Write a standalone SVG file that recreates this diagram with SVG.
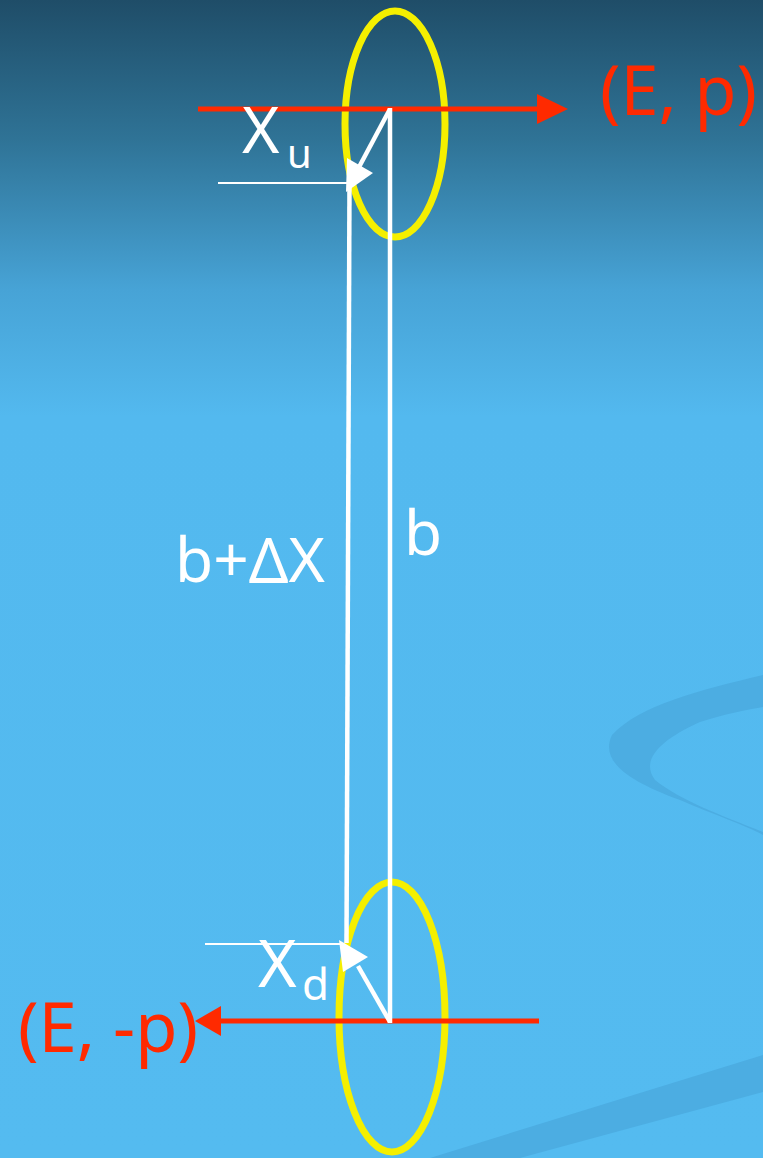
<svg xmlns="http://www.w3.org/2000/svg" width="763" height="1158" viewBox="0 0 763 1158">
<defs>
<linearGradient id="bg" x1="0" y1="0" x2="0" y2="1158" gradientUnits="userSpaceOnUse">
<stop offset="0" stop-color="#1f4d68"/>
<stop offset="0.12" stop-color="#2f7396"/>
<stop offset="0.25" stop-color="#47a3d6"/>
<stop offset="0.36" stop-color="#53b9ef"/>
<stop offset="1" stop-color="#54bbf0"/>
</linearGradient>
<style>
.lbl{font-family:"Noto Sans","DejaVu Sans",sans-serif;fill:#ffffff}
.red{font-family:"Noto Sans","DejaVu Sans",sans-serif;fill:#ff2a00}
.ring{fill:none;stroke:#f5ef00;stroke-width:7}
.beam{stroke:#ff2a00;stroke-width:5;fill:none}
.wl{stroke:#ffffff;stroke-width:4.5;fill:none}
.thin{stroke:#ffffff;stroke-width:1.8;fill:none}
</style>
</defs>
<rect x="0" y="0" width="763" height="1158" fill="url(#bg)"/>
<g id="decor" fill="#4cade2">
<path d="M763,675 C700,690 640,705 612,735 C600,760 625,780 680,800 C715,815 745,825 763,835 L763,832 C720,815 680,800 655,780 C640,760 660,740 700,722 C725,714 745,710 763,707 Z"/>
<path d="M430,1158 L763,1055 L763,1092 L520,1158 Z"/>
</g>
<g id="ring-top"><ellipse class="ring" cx="395" cy="124" rx="50" ry="113"/></g>
<g id="ring-bottom"><ellipse class="ring" cx="392" cy="1017" rx="53" ry="135"/></g>
<g id="connectors">
<line class="beam" x1="198" y1="109" x2="540" y2="109"/>
<polygon points="537,94 568,109 537,124" fill="#ff2a00"/>
<line class="beam" x1="539" y1="1021" x2="218" y2="1021"/>
<polygon points="221,1006 195,1021 221,1036" fill="#ff2a00"/>
<line class="wl" x1="390" y1="108" x2="390" y2="1023"/>
<line class="wl" x1="349.5" y1="183" x2="346.5" y2="943"/>
<line class="thin" x1="218" y1="183" x2="350" y2="183"/>
<line class="thin" x1="205" y1="944" x2="342" y2="944"/>
<line class="wl" x1="390" y1="109" x2="358" y2="169"/>
<polygon points="347,158 373,173 346,192" fill="#ffffff"/>
<line class="wl" x1="390" y1="1022" x2="358" y2="966"/>
<polygon points="339,940 368,957 343,972" fill="#ffffff"/>
</g>
<g id="label-Ep"><text class="red" x="600" y="115" font-size="70" textLength="157" lengthAdjust="spacingAndGlyphs">(E, p)</text></g>
<g id="label-Emp"><text class="red" x="18" y="1052" font-size="70" textLength="180" lengthAdjust="spacingAndGlyphs">(E, -p)</text></g>
<g id="label-Xu"><text class="lbl" x="242" y="153" font-size="64">X</text><text class="lbl" x="287" y="168" font-size="40">u</text></g>
<g id="label-Xd"><text class="lbl" x="258" y="987" font-size="66">X</text><text class="lbl" x="302" y="1000" font-size="44">d</text></g>
<g id="label-bdx"><text class="lbl" x="175" y="582" font-size="62" textLength="150" lengthAdjust="spacingAndGlyphs">b+ΔX</text></g>
<g id="label-b"><text class="lbl" x="404" y="555" font-size="62">b</text></g>
</svg>
